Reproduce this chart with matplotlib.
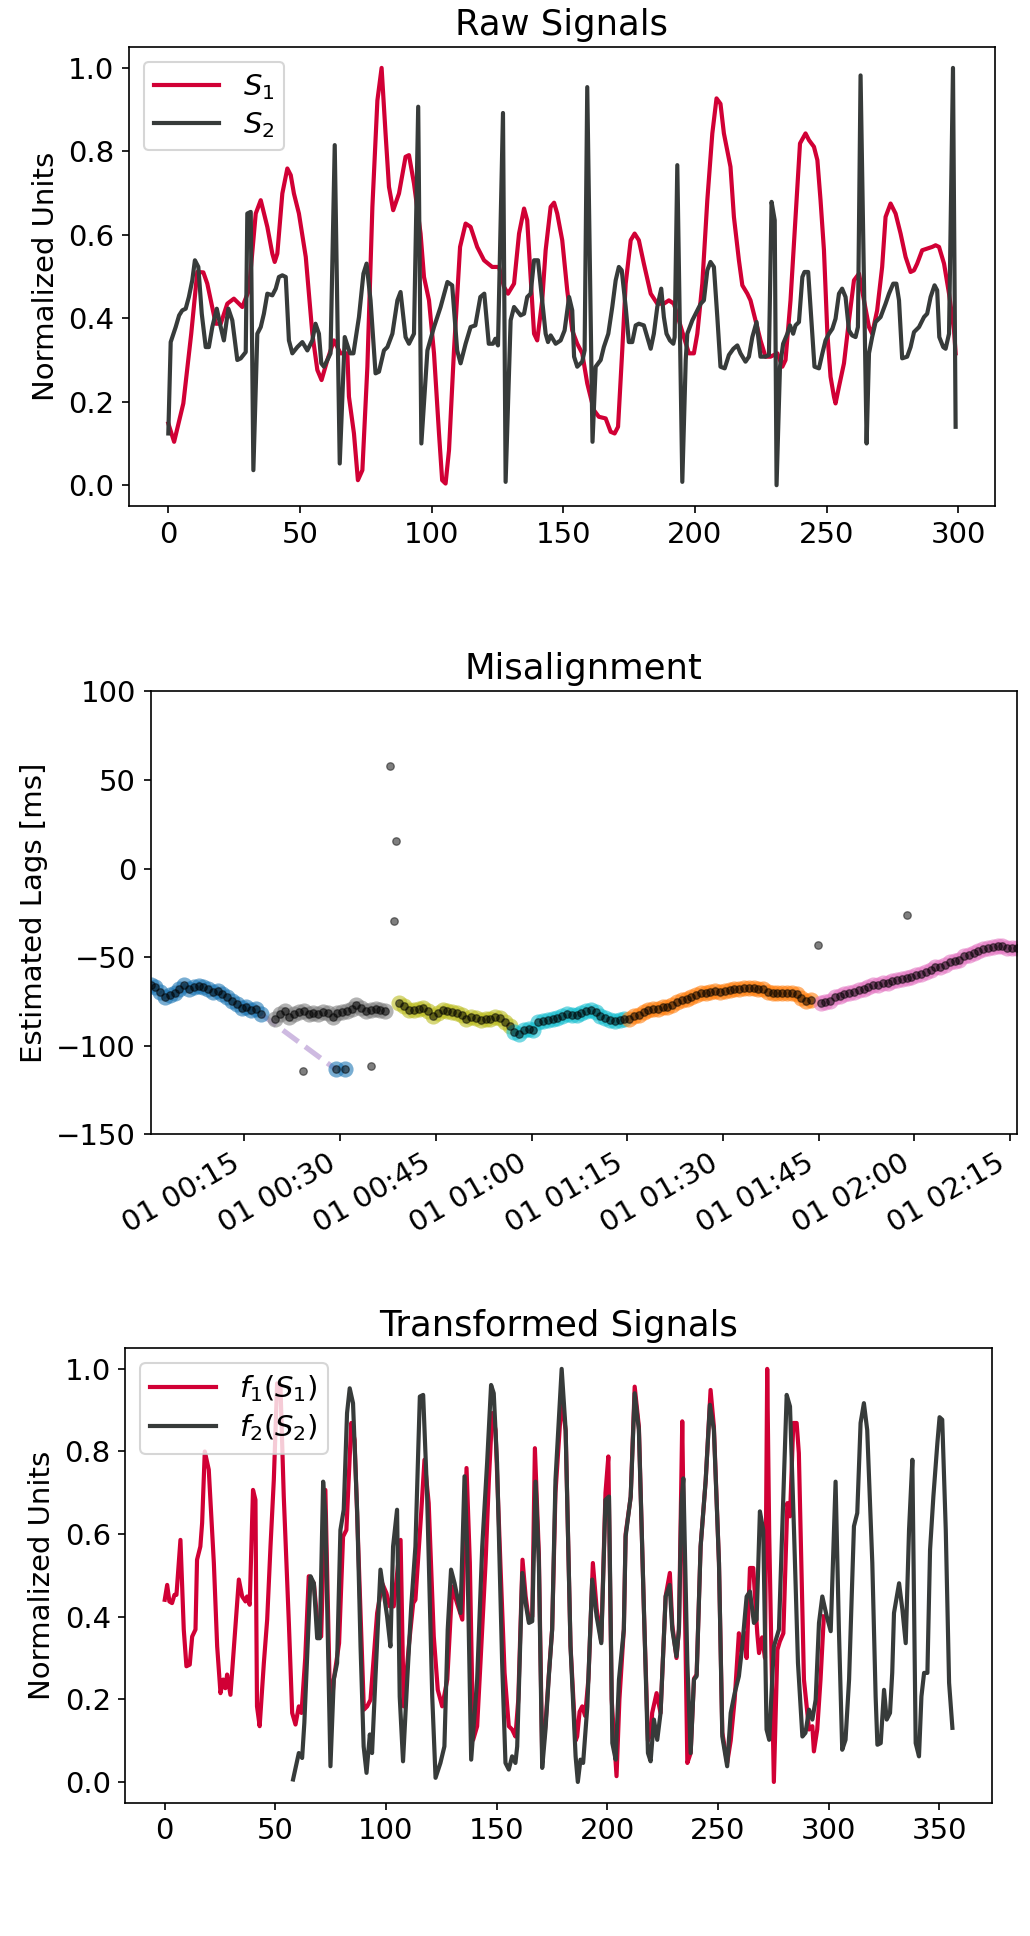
import numpy as np
import matplotlib
matplotlib.use("Agg")
import matplotlib.pyplot as plt
import matplotlib.dates as mdates

plt.rc('font', size=14)
plt.rc('legend', fontsize=14, handlelength=2.25, labelspacing=0.3, borderpad=0.35)
plt.rc('axes', titlesize=17)

RED = '#d10035'
DARK = '#373b3a'

# ---- Raw signals (vertices) ----
s1_x = [0, 2.2, 5.7, 8.7, 11, 13.3, 14.8, 18, 19.9, 22.4, 24.9, 28.1, 30.6, 33.2, 35.1, 37.6, 39.5, 40.4,
        41.4, 43.3, 45.2, 46.5, 47.7, 49.6, 52.2, 54.7, 56.6, 58.2, 60.4, 62.9, 65.4, 68, 68.6, 70.5, 72,
        73.7, 75.6, 77.5, 79.4, 81, 82.5, 83.8, 85.4, 87.6, 90.1, 91.4, 93.3, 95.8, 97.1, 99, 100.9, 102.8,
        104, 105.3, 106.6, 108.5, 110.8, 112.9, 114.8, 117.3, 119.9, 123, 125.6, 127.5, 129, 131.3, 133.2,
        135.1, 136.3, 137.6, 138.9, 140.1, 142, 143.3, 145.2, 146.5, 147.7, 149.6, 151.5, 153.4, 155.3,
        157.2, 159.1, 161.6, 163.5, 166.1, 168, 169.5, 170.8, 172.4, 173.7, 175.6, 177.1, 178.7, 180.6,
        183.2, 185.7, 188.2, 190.1, 192, 193.9, 195.8, 197.7, 199.6, 200.9, 202.8, 204.7, 206.6, 208.2,
        209.7, 211, 213.5, 214.8, 216.7, 218, 219.9, 221.1, 223, 224.9, 226.8, 228.7, 231.3, 233.2, 234.4,
        236.3, 238.2, 239.9, 242, 243.3, 245.2, 246.5, 247.7, 249, 250.3, 251.5, 252.8, 253.4, 254.7,
        256.6, 258.5, 260.4, 262.3, 264.2, 266.1, 267.3, 269.2, 271.1, 272.4, 274.3, 276.2, 278.1, 280,
        281.9, 283.2, 284.4, 286.3, 288.2, 290.1, 291.4, 292.7, 294.6, 296.5, 298.4, 299]
s1_y = [0.148, 0.104, 0.196, 0.363, 0.511, 0.51, 0.483, 0.387, 0.387, 0.435, 0.447, 0.427, 0.467, 0.651,
        0.683, 0.619, 0.555, 0.535, 0.555, 0.699, 0.759, 0.743, 0.699, 0.651, 0.547, 0.363, 0.276, 0.252,
        0.3, 0.347, 0.316, 0.316, 0.212, 0.124, 0.012, 0.036, 0.284, 0.667, 0.922, 1.0, 0.843, 0.715,
        0.659, 0.699, 0.787, 0.791, 0.723, 0.603, 0.499, 0.443, 0.316, 0.124, 0.012, 0.004, 0.084, 0.324,
        0.571, 0.627, 0.619, 0.571, 0.539, 0.523, 0.523, 0.475, 0.459, 0.483, 0.603, 0.663, 0.635, 0.499,
        0.363, 0.347, 0.443, 0.563, 0.667, 0.677, 0.651, 0.587, 0.467, 0.371, 0.339, 0.316, 0.244, 0.18,
        0.164, 0.16, 0.128, 0.124, 0.14, 0.324, 0.483, 0.587, 0.603, 0.587, 0.531, 0.459, 0.435, 0.435,
        0.443, 0.435, 0.395, 0.355, 0.316, 0.316, 0.363, 0.483, 0.683, 0.843, 0.927, 0.914, 0.843, 0.763,
        0.643, 0.539, 0.479, 0.459, 0.443, 0.395, 0.347, 0.308, 0.308, 0.316, 0.284, 0.3, 0.443, 0.643,
        0.819, 0.843, 0.827, 0.811, 0.779, 0.683, 0.563, 0.363, 0.26, 0.212, 0.196, 0.236, 0.292, 0.395,
        0.491, 0.507, 0.443, 0.379, 0.363, 0.419, 0.523, 0.643, 0.675, 0.651, 0.603, 0.547, 0.511, 0.515,
        0.531, 0.563, 0.567, 0.571, 0.575, 0.571, 0.531, 0.459, 0.371, 0.316]

s2_x = [0, 0.9, 2.8, 4.1, 5.3, 6.6, 7.8, 9.1, 10.1, 11.4, 12.7, 14.2, 15.4, 16.7, 18.4, 19.9, 21.1, 22.8,
        24.3, 26.2, 27.5, 29.4, 30, 31.3, 32.3, 33.8, 35.1, 36.3, 37.6, 39.5, 40.8, 42, 43.3, 44.6, 45.8,
        47.1, 49, 50.9, 52.8, 54.7, 55.9, 57.2, 58.1, 59.1, 60.4, 61.6, 63.2, 65.1, 67, 69, 70.3, 72.4,
        74.1, 75.3, 76.8, 78.7, 80, 81.9, 83.2, 85.1, 87, 88.2, 90.1, 91.4, 93.3, 94.9, 96.1, 98.4, 100.9,
        103.4, 106, 107.8, 109.7, 111, 112.9, 114.8, 116.6, 118.5, 120, 121.7, 123.3, 124.2, 125.2, 127.1,
        128.1, 130, 131.3, 133.8, 135.1, 136.3, 137.6, 138.9, 140.4, 142, 143.3, 144.2, 145.2, 147.1, 149,
        150.5, 152.2, 153.4, 154.1, 155.3, 157.2, 158.1, 159.1, 161.1, 162.3, 164.2, 165.4, 167.1, 168.6,
        169.9, 171.1, 172.2, 173.7, 174.9, 176.2, 177.5, 178.7, 180.6, 181.9, 183.2, 184.4, 185.7, 187.2,
        188.2, 189.2, 190.5, 191.8, 192.3, 193.3, 195.2, 196.5, 197.1, 199, 200.9, 202.2, 203.4, 204.7,
        205.9, 207.2, 208.5, 209.7, 211.3, 212.9, 214.6, 216.1, 217.3, 219.2, 220.5, 221.8, 223.4, 224.9,
        226.8, 228.1, 229.1, 230.3, 231, 232.3, 233.5, 235.1, 236.1, 237.3, 238.2, 239.5, 240.8, 241.6,
        243, 244.3, 245.4, 247.1, 248.4, 249.6, 250.9, 252.2, 253.4, 254.7, 255.9, 257.2, 258.5, 259.7,
        261, 261.9, 262.9, 265.2, 266.1, 267.3, 268.6, 270.5, 272.4, 273.7, 275.3, 276.5, 277.5, 278.7,
        280.6, 281.9, 283.2, 285.1, 287, 288.2, 289.5, 291, 292, 292.8, 294.3, 295.2, 296.5, 298, 299]
s2_y = [0.124, 0.343, 0.379, 0.407, 0.419, 0.423, 0.451, 0.491, 0.539, 0.523, 0.411, 0.331, 0.331, 0.379,
        0.423, 0.379, 0.347, 0.423, 0.395, 0.3, 0.304, 0.319, 0.651, 0.655, 0.036, 0.363, 0.379, 0.411,
        0.459, 0.455, 0.471, 0.499, 0.503, 0.499, 0.347, 0.316, 0.331, 0.343, 0.323, 0.347, 0.387, 0.363,
        0.292, 0.284, 0.3, 0.316, 0.815, 0.052, 0.355, 0.316, 0.316, 0.403, 0.507, 0.531, 0.443, 0.268,
        0.272, 0.323, 0.331, 0.363, 0.443, 0.463, 0.355, 0.339, 0.363, 0.907, 0.1, 0.323, 0.379, 0.427,
        0.487, 0.479, 0.323, 0.292, 0.339, 0.379, 0.383, 0.451, 0.459, 0.339, 0.339, 0.351, 0.335, 0.892,
        0.008, 0.395, 0.427, 0.407, 0.411, 0.451, 0.459, 0.539, 0.539, 0.443, 0.363, 0.343, 0.359, 0.339,
        0.347, 0.371, 0.451, 0.419, 0.308, 0.284, 0.296, 0.323, 0.954, 0.104, 0.284, 0.3, 0.331, 0.363,
        0.427, 0.491, 0.523, 0.515, 0.427, 0.343, 0.343, 0.383, 0.387, 0.383, 0.355, 0.327, 0.363, 0.427,
        0.471, 0.403, 0.363, 0.347, 0.339, 0.355, 0.767, 0.008, 0.3, 0.363, 0.395, 0.419, 0.435, 0.443,
        0.515, 0.535, 0.523, 0.403, 0.284, 0.28, 0.312, 0.327, 0.335, 0.316, 0.296, 0.308, 0.355, 0.391,
        0.308, 0.308, 0.312, 0.679, 0.635, 0.0, 0.284, 0.339, 0.363, 0.383, 0.363, 0.383, 0.391, 0.499,
        0.511, 0.511, 0.387, 0.284, 0.28, 0.316, 0.347, 0.363, 0.375, 0.399, 0.459, 0.471, 0.451, 0.371,
        0.359, 0.355, 0.379, 0.982, 0.1, 0.316, 0.355, 0.391, 0.403, 0.435, 0.459, 0.483, 0.483, 0.443,
        0.304, 0.308, 0.331, 0.367, 0.379, 0.403, 0.411, 0.451, 0.479, 0.467, 0.355, 0.331, 0.327, 0.363,
        1.0, 0.14]

# ---- Misalignment (lags in ms, one sample every 45 s per segment) ----
step_min = 0.75
seg_start_min = [0.3, 19.8, 39.3, 57.3, 75.3, 105.3]
seg_colors = ['tab:blue', 'tab:gray', 'tab:olive', 'tab:cyan', 'tab:orange', 'tab:pink']
lag_blue = [-65.5, -67.0, -69.5, -72.5, -71.5, -70.0, -68.0, -66.0, -68.0, -67.0, -66.5, -67.0, -68.0,
            -69.5, -69.0, -71.0, -72.5, -74.5, -76.5, -78.5, -78.0, -80.0, -79.5, -82.0]
lag_gray = [-85.0, -82.0, -80.5, -84.0, -82.0, -81.0, -80.5, -82.0, -81.5, -82.0, -81.0, -81.5, -84.0,
            -81.5, -81.0, -80.5, -79.5, -77.0, -78.5, -80.5, -80.0, -79.0, -80.0, -80.5]
lag_olive = [-76.0, -77.5, -80.0, -80.0, -79.0, -78.5, -80.5, -83.0, -81.5, -80.0, -80.5, -81.0, -81.5,
             -82.5, -85.0, -84.0, -84.5, -85.5, -85.0, -85.0, -84.0, -84.5, -86.5, -89.0]
lag_cyan = [-92.0, -93.5, -91.0, -90.5, -91.0, -86.5, -86.0, -85.5, -85.0, -84.5, -83.5, -82.0, -82.5,
            -82.5, -81.5, -80.5, -80.0, -81.0, -83.0, -84.5, -85.5, -86.0, -85.5, -85.0]
lag_orange = [-85.0, -83.5, -82.5, -81.0, -80.0, -79.5, -79.0, -78.0, -78.0, -77.0, -75.5, -74.0, -73.5,
              -72.5, -71.5, -70.5, -70.0, -69.5, -69.0, -69.5, -69.0, -68.5, -68.0, -68.0, -67.5, -67.5,
              -67.5, -68.0, -68.0, -69.5, -70.5, -70.5, -70.0, -70.5, -70.5, -71.0, -73.0, -74.5, -74.0]
lag_pink = [-76.0, -75.5, -74.5, -72.5, -72.0, -71.0, -70.5, -69.5, -68.5, -68.0, -67.0, -66.0, -65.5,
            -64.5, -64.5, -63.5, -63.0, -62.5, -62.0, -61.0, -60.0, -59.5, -58.5, -57.5, -55.5, -55.5,
            -54.5, -53.0, -52.0, -51.5, -49.5, -49.0, -47.5, -46.5, -45.5, -45.0, -44.5, -43.5, -44.0,
            -45.0, -45.0, -45.0]
seg_lags = [lag_blue, lag_gray, lag_olive, lag_cyan, lag_orange, lag_pink]

blue_extra_min = [29.3, 30.8]
blue_extra_lag = [-113.3, -113.3]
link_min = [17.55, 29.3]
link_lag = [-82.0, -113.3]
outlier_min = [24.2, 34.8, 37.8, 38.4, 38.8, 104.9, 118.9]
outlier_lag = [-114.3, -111.3, 57.7, -29.5, 15.7, -43.3, -26.4]

# ---- Transformed signals ----
f1_x = [0, 1.1, 2.1, 3.3, 4.4, 5.3, 7.1, 8.6, 9.8, 11.3, 12.4, 13.9, 14.6, 16.1, 16.9, 18.1, 19.9, 22.2,
        23.7, 25.2, 26.4, 27.4, 28.2, 29.7, 31.2, 33.5, 35, 36.5, 37.2, 38.4, 39.9, 41, 41.7, 42.9, 44.8,
        46.3, 47.8, 49.3, 50.8, 52.3, 53.8, 56.1, 57.6, 59.1, 60.6, 61.8, 63.5, 65.1, 67.4, 69.6, 70.7,
        72.6, 74.9, 76.4, 78.8, 80.6, 82.1, 84.3, 85.8, 87.7, 90, 91.5, 93, 93.7, 96, 98.3, 100.2, 101.7,
        103.5, 106.6, 108, 110.3, 112.3, 113.3, 115.9, 117.4, 119.3, 121.6, 123.4, 125.4, 127.7, 129.9,
        132.1, 134.5, 136.4, 137.9, 139.4, 141.2, 142.7, 145, 146.5, 148, 149.5, 151.7, 153.6, 155.5, 157,
        158.5, 159.8, 161.7, 163.1, 164.6, 166.1, 167.3, 169.1, 170.6, 172.1, 173.6, 175.1, 176.6, 179.4,
        181.2, 183.4, 185.7, 186.4, 187.5, 188.7, 190, 191.5, 193.5, 195.2, 197.3, 199.2, 200.5, 202,
        204.2, 205.5, 207.5, 208.3, 210.6, 212.4, 214.3, 216.6, 218.4, 219.8, 220.3, 222.3, 224.1, 226.4,
        228.3, 229.4, 231.3, 232.4, 233.9, 234.6, 236.2, 237.7, 239.2, 240.4, 242.2, 244.5, 246.7, 248.2,
        250.5, 252, 254.2, 255.8, 257.6, 259.5, 260.5, 262, 263, 264.5, 266, 267.8, 268.6, 270, 271.3,
        272.3, 273.2, 275.3, 276.9, 278, 279.6, 281.4, 282.6, 284.1, 285.6, 286.6, 288.9, 291.2, 292.7,
        293.4, 294.9, 296.4, 297.9]
f1_y = [0.441, 0.477, 0.437, 0.433, 0.453, 0.453, 0.586, 0.369, 0.28, 0.284, 0.352, 0.369, 0.538, 0.57,
        0.627, 0.8, 0.756, 0.53, 0.328, 0.215, 0.248, 0.227, 0.26, 0.211, 0.32, 0.49, 0.449, 0.437, 0.449,
        0.429, 0.707, 0.683, 0.183, 0.135, 0.288, 0.393, 0.57, 0.731, 0.965, 0.957, 0.691, 0.385, 0.167,
        0.139, 0.183, 0.167, 0.3, 0.498, 0.481, 0.352, 0.352, 0.707, 0.143, 0.248, 0.336, 0.594, 0.61,
        0.869, 0.828, 0.53, 0.175, 0.183, 0.199, 0.248, 0.409, 0.481, 0.457, 0.425, 0.425, 0.586, 0.183,
        0.328, 0.433, 0.441, 0.651, 0.78, 0.675, 0.352, 0.223, 0.183, 0.248, 0.473, 0.433, 0.393, 0.76,
        0.53, 0.102, 0.135, 0.288, 0.53, 0.731, 0.893, 0.852, 0.53, 0.264, 0.135, 0.127, 0.11, 0.2, 0.538,
        0.45, 0.39, 0.4, 0.808, 0.55, 0.06, 0.14, 0.26, 0.37, 0.7, 0.93, 0.85, 0.33, 0.1, 0.11, 0.17,
        0.183, 0.16, 0.25, 0.53, 0.42, 0.34, 0.7, 0.788, 0.2, 0.014, 0.2, 0.37, 0.6, 0.69, 0.957, 0.86,
        0.41, 0.1, 0.12, 0.167, 0.215, 0.167, 0.45, 0.506, 0.38, 0.3, 0.37, 0.873, 0.6, 0.046, 0.07, 0.25,
        0.26, 0.57, 0.73, 0.949, 0.86, 0.53, 0.12, 0.046, 0.1, 0.2, 0.36, 0.32, 0.36, 0.3, 0.518, 0.518,
        0.36, 0.312, 0.35, 0.3, 1.0, 0.6, 0.0, 0.32, 0.34, 0.36, 0.675, 0.643, 0.869, 0.869, 0.796, 0.248,
        0.127, 0.135, 0.074, 0.127, 0.248, 0.401]

f2_x = [58, 60.6, 62.1, 63.1, 65.9, 67.4, 68.9, 70.1, 71.6, 72.6, 74.9, 76.4, 77.9, 79.4, 80.9, 82.4,
        83.6, 85.1, 87, 88.5, 89.9, 91.2, 92.7, 93.7, 95.2, 97.5, 100.5, 102, 103.2, 105, 106.2, 107.7,
        109.6, 111.4, 113.3, 115.3, 116.8, 118.6, 120.9, 122.4, 124.6, 126.4, 127.9, 129.4, 131, 133.7,
        135.5, 136.7, 138.5, 141.2, 143.5, 145.7, 147.5, 148.7, 150.2, 152.5, 154, 155.5, 157, 158.5,
        159.3, 161.6, 163.1, 164.6, 166.1, 167.6, 169.1, 170.6, 172.1, 173.6, 175.1, 176.6, 179.4, 181.2,
        183.4, 185.7, 186.7, 187.9, 189.1, 191, 193.2, 195.2, 197.3, 199.2, 200.8, 202.3, 203.8, 205.3,
        207.5, 208.3, 210.6, 212.4, 214.3, 216.6, 218.4, 219.6, 221.1, 222.6, 224.1, 226.4, 228.2, 229.4,
        231.3, 232.4, 233.5, 234.4, 236.2, 237.7, 239.2, 240.4, 242.2, 244.5, 246.4, 248.2, 250.5, 252,
        254.2, 255.8, 257.6, 259.5, 261, 263, 264.5, 266.3, 267.5, 269, 270.5, 272, 273.2, 275.3, 277.6,
        279.1, 281.1, 282.6, 284.4, 286.2, 288.2, 289.6, 291.2, 292.7, 294.2, 295.7, 297.2, 299.2, 301,
        303.2, 304.7, 306.2, 307.7, 309.3, 311.5, 313, 314.5, 316, 317.5, 319.8, 321.3, 322.1, 323.6,
        325.1, 326.3, 327.8, 328.8, 329.6, 331.9, 333.4, 334.9, 336.4, 337.9, 339.4, 340.9, 342, 343.2,
        344.7, 345.9, 347.4, 349.2, 350.2, 351.4, 353, 354.5, 356]
f2_y = [0.006, 0.07, 0.058, 0.143, 0.498, 0.481, 0.348, 0.348, 0.727, 0.643, 0.038, 0.248, 0.288, 0.61,
        0.659, 0.893, 0.953, 0.917, 0.651, 0.328, 0.086, 0.022, 0.115, 0.07, 0.248, 0.514, 0.401, 0.328,
        0.57, 0.659, 0.207, 0.05, 0.248, 0.425, 0.57, 0.933, 0.937, 0.691, 0.207, 0.01, 0.046, 0.086,
        0.369, 0.514, 0.481, 0.409, 0.74, 0.57, 0.054, 0.248, 0.57, 0.772, 0.961, 0.941, 0.772, 0.288,
        0.046, 0.03, 0.062, 0.046, 0.086, 0.506, 0.433, 0.385, 0.389, 0.727, 0.53, 0.034, 0.127, 0.256,
        0.369, 0.731, 1.0, 0.852, 0.328, 0.062, 0.0, 0.054, 0.046, 0.183, 0.49, 0.401, 0.336, 0.683, 0.691,
        0.094, 0.054, 0.248, 0.369, 0.594, 0.691, 0.941, 0.852, 0.409, 0.07, 0.05, 0.151, 0.102, 0.167,
        0.449, 0.477, 0.369, 0.304, 0.369, 0.675, 0.735, 0.288, 0.07, 0.248, 0.256, 0.57, 0.731, 0.913,
        0.852, 0.53, 0.11, 0.038, 0.167, 0.215, 0.256, 0.328, 0.449, 0.461, 0.385, 0.393, 0.655, 0.61,
        0.127, 0.102, 0.328, 0.369, 0.61, 0.937, 0.909, 0.61, 0.288, 0.11, 0.119, 0.175, 0.151, 0.199,
        0.385, 0.449, 0.401, 0.365, 0.727, 0.369, 0.078, 0.102, 0.248, 0.619, 0.651, 0.869, 0.917, 0.852,
        0.53, 0.207, 0.09, 0.094, 0.223, 0.151, 0.167, 0.264, 0.409, 0.481, 0.417, 0.336, 0.61, 0.78,
        0.094, 0.062, 0.207, 0.264, 0.264, 0.562, 0.691, 0.82, 0.883, 0.877, 0.61, 0.24, 0.131]

fig = plt.figure(figsize=(1030 / 150, 1936 / 150), dpi=150)

# raw signals
ax1 = fig.add_axes([0.1252, 0.7386, 0.8408, 0.2371])
ax1.plot(s1_x, s1_y, color=RED, lw=2, label=r'$S_1$')
ax1.plot(s2_x, s2_y, color=DARK, lw=2, label=r'$S_2$')
ax1.set_xlim(-14.95, 313.95)
ax1.set_ylim(-0.05, 1.05)
ax1.set_title('Raw Signals')
ax1.set_ylabel('Normalized Units')
ax1.legend(loc='upper left')

# misalignment
base = np.datetime64('2021-01-01T00:00:00')


def to_time(minutes):
    return base + (np.asarray(minutes) * 60).astype('timedelta64[s]')


ax2 = fig.add_axes([0.1463, 0.4141, 0.8408, 0.2288])
all_t = []
for start, lags, col in zip(seg_start_min, seg_lags, seg_colors):
    mins = start + step_min * np.arange(len(lags))
    all_t.append(mins)
    t = to_time(mins)
    ax2.scatter(t, lags, s=60, color=col, alpha=0.6, linewidths=0, zorder=2)
    ax2.scatter(t, lags, s=13, color='k', alpha=0.5, edgecolors='k', linewidths=0.6, zorder=3)
ax2.plot(to_time(link_min), link_lag, '--', color='tab:purple', alpha=0.45, lw=2.5, zorder=1)
ax2.scatter(to_time(blue_extra_min), blue_extra_lag, s=60, color='tab:blue', alpha=0.6, linewidths=0, zorder=2)
ax2.scatter(to_time(blue_extra_min), blue_extra_lag, s=13, color='k', alpha=0.5, edgecolors='k', linewidths=0.6, zorder=3)
ax2.scatter(to_time(outlier_min), outlier_lag, s=13, color='k', alpha=0.5, edgecolors='k', linewidths=0.6, zorder=3)
all_t = np.concatenate(all_t)
ax2.set_xlim(to_time(all_t.min()), to_time(all_t.max()))
ax2.set_ylim(-150, 100)
ax2.xaxis.set_major_locator(mdates.MinuteLocator(byminute=[0, 15, 30, 45]))
ax2.xaxis.set_major_formatter(mdates.DateFormatter('%d %H:%M'))
ax2.tick_params(axis='x', labelrotation=30)
for lab in ax2.get_xticklabels():
    lab.set_ha('right')
ax2.set_title('Misalignment')
ax2.set_ylabel('Estimated Lags [ms]')

# transformed signals
ax3 = fig.add_axes([0.1217, 0.0689, 0.8412, 0.2347])
ax3.plot(f1_x, f1_y, color=RED, lw=2, label=r'$f_1(S_1)$')
ax3.plot(f2_x, f2_y, color=DARK, lw=2, label=r'$f_2(S_2)$')
ax3.set_xlim(-17.8, 373.8)
ax3.set_ylim(-0.05, 1.05)
ax3.set_title('Transformed Signals')
ax3.set_ylabel('Normalized Units')
ax3.legend(loc='upper left')

fig.savefig('out.png', dpi=150)
